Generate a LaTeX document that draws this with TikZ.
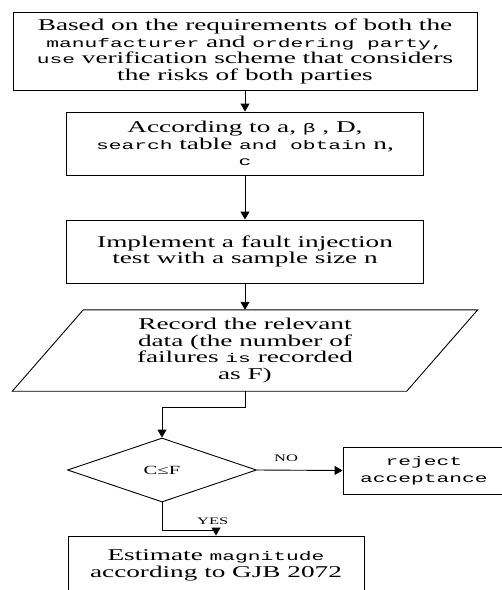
\documentclass[tikz,border=0pt]{standalone}
\usepackage{fontspec}
\setmainfont{Liberation Serif}[FakeStretch=1.65]
\newfontfamily\simsfont{Liberation Mono}[FakeStretch=1.7]
\newcommand{\sims}[1]{{\simsfont\fontsize{12.5}{16.7}\selectfont #1}}
\usetikzlibrary{shapes.geometric,arrows.meta}

\begin{document}
\begin{tikzpicture}[x=1pt,y=-1pt,
    every node/.style={font=\fontsize{16.5}{16.7}\selectfont},
    box/.style={rectangle,draw,line width=0.9pt,align=center,inner sep=0pt},
    line/.style={line width=0.9pt},
    arrow/.style={line width=0.9pt,-{Triangle[width=9pt,length=8pt]}},
    lbl/.style={font=\fontsize{10}{12}\selectfont,inner sep=1pt}]
    \useasboundingbox (0,0) rectangle (502,590);
    \clip (0,0) rectangle (502,590);
    \node[box,minimum width=464,minimum height=78] (plan) at (245,51.5)
      {Based on the requirements of both the\\ \sims{manufacturer} and \sims{ordering party,}\\
       \sims{use} verification scheme that considers\\ the risks of both parties};
    \node[box,minimum width=357,minimum height=63] (lookup) at (245,143.5)
      {According to a, \sims{β} , D,\\ \sims{search} table \sims{and obtain} n,\\ \sims{c}};
    \node[box,minimum width=357,minimum height=63] (test) at (245,251.5)
      {Implement a fault injection\\ test with a sample size n};
    \node[align=center,inner sep=0pt,minimum width=394,minimum height=81] (record) at (245,350.5)
      {Record the relevant\\ data (the number of\\ failures \sims{is} recorded\\ as F)};
    \draw[line] ([xshift=35.5]record.north west) -- ([xshift=35.5]record.north east)
      -- ([xshift=-35.5]record.south east) -- ([xshift=-35.5]record.south west) -- cycle;
    \node[diamond,draw,line width=0.9pt,inner sep=0pt,minimum width=189,minimum height=64,
      font=\fontsize{12.5}{14}\selectfont] (check) at (162,470) {C≤F};
    \node[box,minimum width=162,minimum height=47] (reject) at (424,470.5)
      {\sims{reject}\\ \sims{acceptance}};
    \node[box,minimum width=296,minimum height=58] (est) at (216,565)
      {Estimate \sims{magnitude}\\ according to GJB 2072};
    % connectors
    \draw[arrow] (plan) -- (lookup);
    \draw[arrow] (lookup) -- (test);
    \draw[arrow] (test) -- (record);
    \draw[arrow] (record.south) -- ++(0,16) -| (check.north);
    \draw[arrow] (check.east) -- node[lbl,above,pos=.34,yshift=7pt] {NO} (reject.west);
    \draw[arrow] (check.south) -- ++(0,28) -| node[lbl,above,pos=.47,yshift=4pt] {YES} (est.north);
\end{tikzpicture}
\end{document}
